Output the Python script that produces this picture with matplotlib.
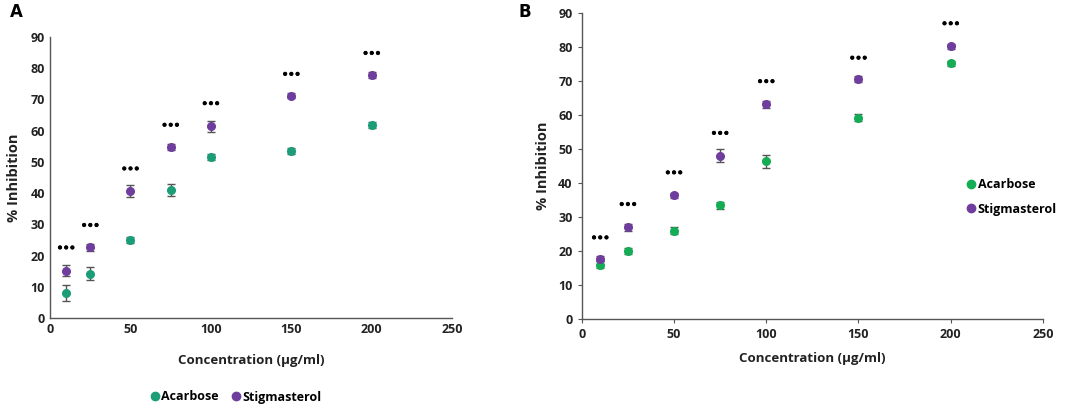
import matplotlib
matplotlib.use("Agg")
import matplotlib.pyplot as plt
import matplotlib.patheffects as pe
from matplotlib.lines import Line2D

conc = [10, 25, 50, 75, 100, 150, 200]

# Panel A
a_acar = [8.0, 14.2, 25.0, 41.0, 51.6, 53.5, 61.8]
a_acar_err = [2.5, 2.0, 1.0, 2.0, 1.0, 1.0, 1.0]
a_stig = [15.2, 22.6, 40.7, 54.8, 61.4, 71.2, 77.8]
a_stig_err = [1.8, 1.0, 1.8, 1.0, 1.8, 0.8, 1.0]
a_sig = [22.4, 29.6, 47.7, 61.7, 68.6, 78.0, 84.7]

# Panel B
b_acar = [15.9, 20.0, 26.0, 33.4, 46.3, 59.1, 75.1]
b_acar_err = [1.0, 0.8, 1.0, 1.0, 2.0, 1.0, 0.8]
b_stig = [17.7, 27.0, 36.3, 48.0, 63.1, 70.5, 80.1]
b_stig_err = [0.8, 1.0, 0.8, 2.0, 1.0, 0.8, 0.8]
b_sig = [23.8, 33.6, 42.9, 54.5, 69.7, 76.6, 86.7]

xticks = [0, 50, 100, 150, 200, 250]
yticks = [0, 10, 20, 30, 40, 50, 60, 70, 80, 90]
series_names = ['Acarbose', 'Stigmasterol']

plt.rcParams['font.family'] = ['Open Sans', 'DejaVu Sans']

fig = plt.figure(figsize=(10.84, 4.09), dpi=100)
axA = fig.add_axes([0.0461, 0.2225, 0.3709, 0.687])
axB = fig.add_axes([0.5366, 0.22, 0.4254, 0.749])

purple = '#6f3d9e'

def draw(ax, acar, acar_err, stig, stig_err, sig, green):
    ax.errorbar(conc, acar, yerr=acar_err, fmt='o', color=green, ms=5.5,
                ecolor='#555555', elinewidth=1, capsize=3, capthick=1,
                zorder=3)
    ax.errorbar(conc, stig, yerr=stig_err, fmt='o', color=purple, ms=5.5,
                ecolor='#555555', elinewidth=1, capsize=3, capthick=1,
                zorder=3)
    for x, y in zip(conc, sig):
        ax.text(x, y, '•••', ha='center', va='center', fontsize=7,
                color='black', family='DejaVu Sans', fontweight='bold',
                path_effects=[pe.withStroke(linewidth=0.6, foreground='black')])
    ax.set_xlim(0, 250)
    ax.set_ylim(0, 90)
    ax.set_xticks(xticks)
    ax.set_yticks(yticks)
    for s in ['top', 'right']:
        ax.spines[s].set_visible(False)
    for s in ['left', 'bottom']:
        ax.spines[s].set_color('#555555')
        ax.spines[s].set_linewidth(1.0)
    ax.tick_params(axis='both', labelsize=9, color='#555555', length=3)
    for lab in ax.get_xticklabels() + ax.get_yticklabels():
        lab.set_fontweight('bold')
        lab.set_color('#222222')
    ax.set_xlabel('Concentration (μg/ml)', fontsize=9.5, fontweight='bold',
                  color='#222222', labelpad=8)
    ax.set_ylabel('% Inhibition', fontsize=10.5, fontweight='bold',
                  color='#222222', labelpad=6)
    return [Line2D([], [], ls='none', marker='o', ms=6, color=green),
            Line2D([], [], ls='none', marker='o', ms=6, color=purple)]

hA = draw(axA, a_acar, a_acar_err, a_stig, a_stig_err, a_sig, '#1b9e77')
hB = draw(axB, b_acar, b_acar_err, b_stig, b_stig_err, b_sig, '#14ad55')

axA.tick_params(axis='y', length=0)
axA.tick_params(axis='x', length=0)
axA.yaxis.labelpad = 7
axA.xaxis.labelpad = 13

fig.legend(hA, series_names, loc='center', bbox_to_anchor=(236/1084, 1 - 397/409),
           ncol=2, frameon=False, handletextpad=0.1, columnspacing=1.0,
           handlelength=0.8, borderpad=0.1, prop={'weight': 'bold', 'size': 9})
fig.legend(hB, series_names, loc='center left',
           bbox_to_anchor=(955/1084, 1 - 197/409),
           ncol=1, frameon=False, handletextpad=0.1, handlelength=0.8,
           labelspacing=0.9, prop={'weight': 'bold', 'size': 9})

fig.text(10/1084, 1 - 12/409, 'A', fontsize=12, fontweight='bold', va='center',
         family='DejaVu Sans')
fig.text(519/1084, 1 - 12/409, 'B', fontsize=12, fontweight='bold', va='center',
         family='DejaVu Sans')

fig.savefig('out.png', dpi=100)
